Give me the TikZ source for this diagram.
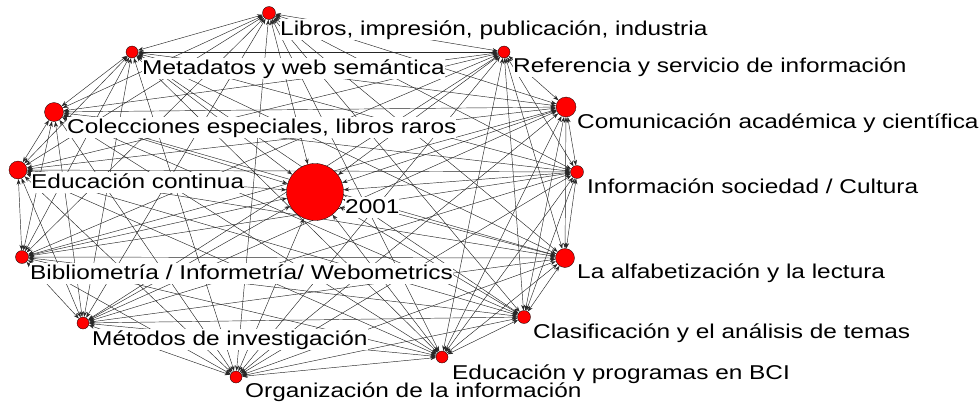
\documentclass[tikz,border=0pt]{standalone}
\usepackage{fontspec}
\setmainfont[FakeStretch=1.22]{Liberation Sans}
\usetikzlibrary{arrows.meta,backgrounds}
\tikzstyle{vertex} = [circle, fill=red, draw=black, line width=0.3pt, inner sep=0pt]
\tikzstyle{diredge} = [line width=0.45pt, black!85, {Stealth[length=5.5pt,width=4pt]}-{Stealth[length=5.5pt,width=4pt]}]
\tikzstyle{lab} = [fill=white, inner sep=0pt, text height=16pt, text depth=5pt, anchor=base west, font=\fontsize{20}{20}\selectfont]

\begin{document}
\begin{tikzpicture}[x=1pt,y=-1pt]
    \useasboundingbox (0,0) rectangle (979,407);
    \foreach \n/\x/\y/\d/\lx/\ly/\lab in {
        1/269/13/13/280/35/{Libros, impresión, publicación, industria},
        2/132/52/12/142/74/{Metadatos y web semántica},
        3/504/52/12/513/72/{Referencia y servicio de información},
        4/54/112/19/67/133/{Colecciones especiales, libros raros},
        5/566/107/20/577/128/{Comunicación académica y científica},
        6/18/170/18/31/188/{Educación continua},
        7/315/192/57/345/213/{2001},
        8/577/172/13/587/193/{Información sociedad / Cultura},
        9/22/257/13/30/279/{Bibliometría / Informetría/ Webometrics},
        10/565/258/19/577/278/{La alfabetización y la lectura},
        11/83/323/12/92/345/{Métodos de investigación},
        12/524/317/13/533/338/{Clasificación y el análisis de temas},
        13/442/357/12/452/379/{Educación y programas en BCI},
        14/236/377/12/245/397/{Organización de la información}}{
        \node[vertex, minimum size=\d pt] (v\n) at (\x,\y) {};
        \node[lab] (l\n) at (\lx,\ly) {\lab};
    }
    \begin{scope}[on background layer]
    \foreach \i in {1,...,13}{
        \pgfmathtruncatemacro\k{\i+1}
        \foreach \j in {\k,...,14}
            \draw[diredge] (v\i) -- (v\j);
    }
    \end{scope}
\end{tikzpicture}
\end{document}
